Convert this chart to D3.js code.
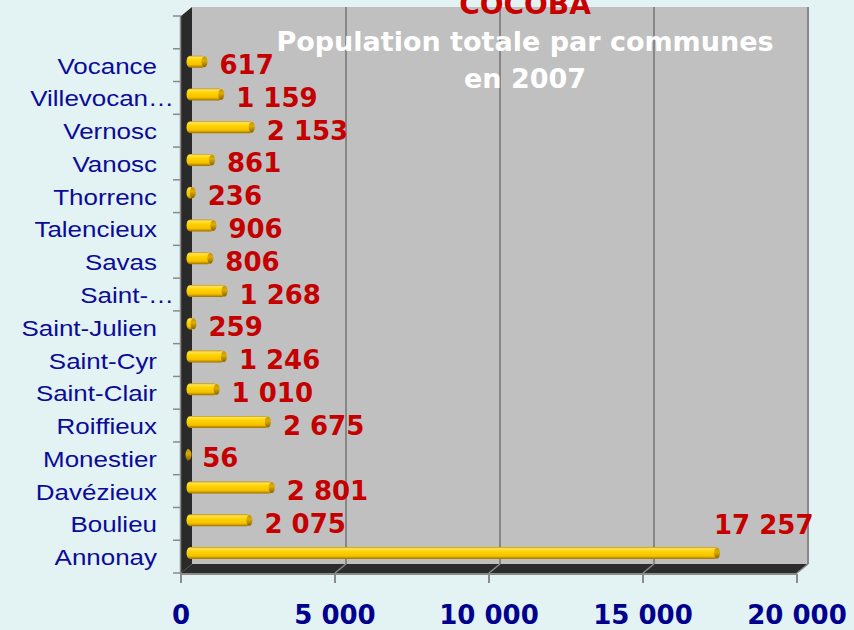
<!DOCTYPE html>
<html>
<head>
<meta charset="utf-8">
<script src="https://cdn.jsdelivr.net/npm/d3@7"></script>
<style>
  html, body { margin: 0; padding: 0; background: #e3f3f4; }
  svg { display: block; }
</style>
</head>
<body>
<div id="chart"></div>
<script>
// data, top to bottom as shown
const communes = ['Vocance', 'Villevocan…', 'Vernosc', 'Vanosc', 'Thorrenc', 'Talencieux', 'Savas',
  'Saint-…', 'Saint-Julien', 'Saint-Cyr', 'Saint-Clair', 'Roiffieux', 'Monestier', 'Davézieux',
  'Boulieu', 'Annonay'];
const population = [617, 1159, 2153, 861, 236, 906, 806, 1268, 259, 1246, 1010, 2675, 56, 2801, 2075, 17257];
const xTicks = [0, 5000, 10000, 15000, 20000];
const titleLines = ['Population totale par communes', 'en 2007'];
const supTitle = 'COCOBA';

const width = 854;
const height = 630;

// front edge of the 3d box and depth offset to the back wall
const front = { left: 181, right: 797, top: 16, bottom: 573 };
const depth = { dx: 11, dy: -9 };

const fr = d3.formatLocale({ decimal: ',', thousands: ' ', grouping: [3], currency: ['', ''] });
const fmt = fr.format(',d');

const svg = d3.select('#chart')
  .append('svg')
  .attr('width', width)
  .attr('height', height)
  .style('background-color', '#e3f3f4');

const xScale = d3.scaleLinear()
  .domain([0, 20000])
  .range([front.left, front.right]);

const step = (front.bottom - front.top) / (communes.length + 1);
const yScale = d3.scaleBand()
  .domain(communes.slice().reverse())
  .range([front.bottom, front.bottom - step * communes.length]);

const defs = svg.append('defs');
const grad = defs.append('linearGradient')
  .attr('id', 'barGrad')
  .attr('x1', '0%').attr('x2', '0%').attr('y1', '0%').attr('y2', '100%');
[['0%', '#c99400'], ['12%', '#ffe25a'], ['35%', '#ffd500'], ['75%', '#f5c000'], ['100%', '#9c7000']]
  .forEach(s => grad.append('stop').attr('offset', s[0]).attr('stop-color', s[1]));
const capGrad = defs.append('linearGradient')
  .attr('id', 'capGrad')
  .attr('x1', '0%').attr('x2', '0%').attr('y1', '0%').attr('y2', '100%');
[['0%', '#c79500'], ['40%', '#ddac00'], ['100%', '#8a6400']]
  .forEach(s => capGrad.append('stop').attr('offset', s[0]).attr('stop-color', s[1]));

// back wall
const backLeft = front.left + depth.dx;
const backTop = front.top + depth.dy;
const backBottom = front.bottom + depth.dy;
svg.append('rect')
  .attr('x', backLeft)
  .attr('y', backTop)
  .attr('width', front.right - front.left)
  .attr('height', backBottom - backTop)
  .attr('fill', '#c0c0c0');

// vertical grid lines on the back wall
svg.append('g')
  .selectAll('line')
  .data(xTicks.slice(1))
  .enter()
  .append('line')
  .attr('x1', d => xScale(d) + depth.dx)
  .attr('x2', d => xScale(d) + depth.dx)
  .attr('y1', backTop)
  .attr('y2', backBottom)
  .attr('stroke', '#878787')
  .attr('stroke-width', 2);

// left side wall
svg.append('path')
  .attr('d', d3.line()([
    [front.left, front.top], [backLeft, backTop], [backLeft, backBottom], [front.left, front.bottom]
  ]) + 'Z')
  .attr('fill', '#2a2a2a');

// floor
svg.append('path')
  .attr('d', d3.line()([
    [front.left, front.bottom], [front.right, front.bottom],
    [front.right + depth.dx, backBottom], [backLeft, backBottom]
  ]) + 'Z')
  .attr('fill', '#2c2c2c');

// floor grid lines
svg.append('g')
  .selectAll('line')
  .data(xTicks.slice(1))
  .enter()
  .append('line')
  .attr('x1', d => xScale(d))
  .attr('x2', d => xScale(d) + depth.dx)
  .attr('y1', front.bottom)
  .attr('y2', backBottom)
  .attr('stroke', '#8a8a8a')
  .attr('stroke-width', 1.5);

// axes lines and ticks
svg.append('line')
  .attr('x1', front.left).attr('x2', front.right)
  .attr('y1', front.bottom + 1).attr('y2', front.bottom + 1)
  .attr('stroke', '#8a8a8a').attr('stroke-width', 2);
svg.append('line')
  .attr('x1', front.left - 0.5).attr('x2', front.left - 0.5)
  .attr('y1', front.top).attr('y2', front.bottom + 1)
  .attr('stroke', '#8a8a8a').attr('stroke-width', 1.5);

svg.append('g')
  .selectAll('line')
  .data(xTicks)
  .enter()
  .append('line')
  .attr('x1', d => xScale(d))
  .attr('x2', d => xScale(d))
  .attr('y1', front.bottom + 1)
  .attr('y2', front.bottom + 10)
  .attr('stroke', '#8a8a8a')
  .attr('stroke-width', 2);

const yBounds = communes.map(c => yScale(c)).concat([front.bottom, front.top]);
svg.append('g')
  .selectAll('line')
  .data(yBounds)
  .enter()
  .append('line')
  .attr('x1', front.left - 8)
  .attr('x2', front.left)
  .attr('y1', d => d)
  .attr('y2', d => d)
  .attr('stroke', '#8a8a8a')
  .attr('stroke-width', 1.5);

// x tick labels
svg.append('g')
  .selectAll('text')
  .data(xTicks)
  .enter()
  .append('text')
  .attr('x', d => xScale(d))
  .attr('y', 624)
  .attr('text-anchor', 'middle')
  .style('font', 'bold 26px "DejaVu Sans"')
  .attr('fill', '#00008f')
  .text(d => fmt(d));

// category labels (stretched like the original); truncated ones stick out past the others
svg.append('g')
  .selectAll('text')
  .data(communes)
  .enter()
  .append('text')
  .attr('transform', d => 'translate(' + (d.endsWith('…') ? 174 : 157) + ',' +
    (yScale(d) + yScale.bandwidth() / 2 + 8.5) + ') scale(1.18,1)')
  .attr('text-anchor', 'end')
  .style('font', '22px "Liberation Sans"')
  .attr('fill', '#0b0b98')
  .text(d => d);

// bars as cylinders, half way in depth
const bx = depth.dx / 2;
const by = -3.5;
const barH = 12;
const x0 = xScale(0) + bx;
const bars = svg.append('g')
  .selectAll('g')
  .data(communes.map((c, i) => ({ name: c, value: population[i] })))
  .enter()
  .append('g');

bars.append('rect')
  .attr('x', x0)
  .attr('y', d => yScale(d.name) + yScale.bandwidth() / 2 + by - barH / 2)
  .attr('width', d => Math.max(xScale(d.value) - xScale(0), 3))
  .attr('height', barH)
  .attr('rx', 3.5)
  .attr('ry', barH / 2)
  .attr('fill', 'url(#barGrad)');

bars.append('ellipse')
  .attr('cx', d => x0 + Math.max(xScale(d.value) - xScale(0), 3) - 1)
  .attr('cy', d => yScale(d.name) + yScale.bandwidth() / 2 + by)
  .attr('rx', 3)
  .attr('ry', barH / 2 - 0.5)
  .attr('fill', 'url(#capGrad)');

// value labels
bars.append('text')
  .attr('x', d => d.value > 15000 ? x0 + xScale(d.value) - xScale(0) - 4 : x0 + xScale(d.value) - xScale(0) + 14)
  .attr('y', d => yScale(d.name) + yScale.bandwidth() / 2 + (d.value > 15000 ? -23 : 9))
  .style('font', 'bold 26px "DejaVu Sans"')
  .attr('fill', '#c40000')
  .text(d => fmt(d.value));

// title
svg.append('text')
  .attr('x', 525)
  .attr('y', 14)
  .attr('text-anchor', 'middle')
  .style('font', 'bold 28px "DejaVu Sans"')
  .attr('fill', '#c80000')
  .text(supTitle);

svg.append('g')
  .selectAll('text')
  .data(titleLines)
  .enter()
  .append('text')
  .attr('x', 525)
  .attr('y', (d, i) => 51 + i * 37)
  .attr('text-anchor', 'middle')
  .style('font', 'bold 27px "DejaVu Sans"')
  .attr('fill', '#ffffff')
  .text(d => d);
</script>
</body>
</html>
